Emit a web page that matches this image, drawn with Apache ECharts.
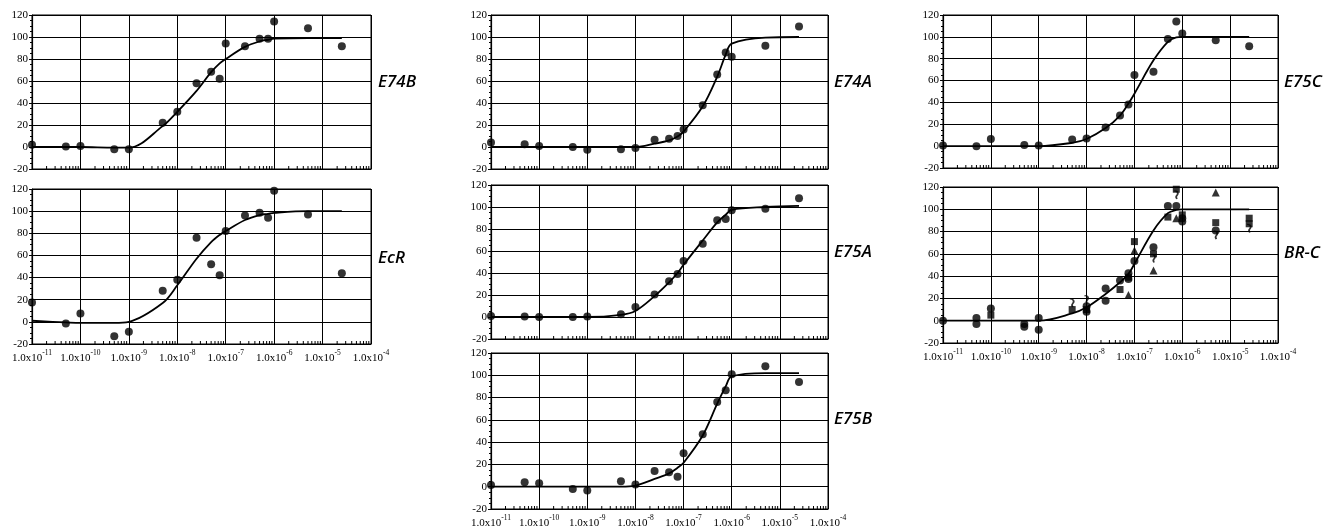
<!DOCTYPE html>
<html>
<head>
<meta charset="utf-8">
<script src="https://cdn.jsdelivr.net/npm/echarts@6/dist/echarts.min.js"></script>
<style>
  html, body { margin: 0; padding: 0; background: #fff; }
  #chart { width: 1327px; height: 530px; }
</style>
</head>
<body>
<div id="chart"></div>
<script>
// Ligand concentrations (M) shared by every panel
const conc = [1e-11, 5e-11, 1e-10, 5e-10, 1e-9, 5e-9, 1e-8, 2.5e-8, 5e-8, 7.5e-8,
              1e-7, 2.5e-7, 5e-7, 7.5e-7, 1e-6, 5e-6, 2.5e-5];

// Measured responses (% of maximum) at each concentration
const e74bData = [2, 0.5, 1, -2, -2, 22, 32, 58, 68.5, 62, 94, 91.5, 98.5, 98.5, 114, 108, 91.5];
const ecrData  = [17.5, -1.5, 7.5, -13, -9, 28, 38, 76, 52, 42, 82, 96, 98.5, 94, 118.5, 97, 44];
const e74aData = [4, 2.5, 1, 0, -2.5, -2, -1, 6.5, 7.5, 10, 16, 38, 66, 86, 82, 92, 109.5];
const e75aData = [1, 0.5, 0, 0, 0.5, 2.5, 9, 20.5, 32.5, 39, 51, 66.5, 88, 89, 97, 98.5, 108];
const e75bData = [1.5, 4, 3, -2, -3.5, 5, 2, 14, 13, 9, 30, 47, 76, 86.5, 101, 108, 94];
const e75cData = [0.5, 0, 6.5, 1, 0.5, 6, 7, 17, 28, 38, 65, 68, 98, 114, 103, 97, 91.5];

// Fitted dose-response curves evaluated at the same concentrations
const e74bFit = [0, 0, 0, -0.5, -0.5, 19, 32, 51, 68, 76, 80, 91, 96, 97.5, 98.5, 99, 99];
const ecrFit  = [1, -0.5, -1, -1, 0, 17, 33, 57, 72, 78.5, 82, 92, 96.5, 97.5, 98.5, 100, 100];
const e74aFit = [0, 0, 0, 0, 0, 0, 0, 3, 6, 9.5, 14, 37, 64, 84, 94, 99.5, 100];
const e75aFit = [0, 0, 0, 0, 0, 2, 5.5, 19, 31.5, 40, 47.5, 69.5, 86, 93, 97.5, 100, 101];
const e75bFit = [0, 0, 0, 0, 0, 0, 1, 7, 12, 17, 21.5, 46, 74.5, 90, 99, 102, 102];
const e75cFit = [0, 0, 0, 0, 0, 3, 6.5, 16.5, 28, 39, 48, 78.5, 95.5, 99.5, 100, 100, 100];
const brcFit  = [0, 0, 0, 0, 0, 6.5, 12, 24, 34.5, 42, 51, 81, 96.5, 99.5, 100, 100, 100];

// BR-C isoforms, plotted with separate markers
const brcCircleX = [1e-11, 5e-11, 5e-11, 1e-10, 5e-10, 5e-10, 1e-9, 1e-9, 1e-8, 1e-8, 2.5e-8, 2.5e-8,
                    5e-8, 7.5e-8, 7.5e-8, 1e-7, 2.5e-7, 5e-7, 7.5e-7, 1e-6, 1e-6, 5e-6];
const brcCircleY = [0, 2.5, -3, 11, -3, -5.5, 2.5, -8, 8, 13, 29, 18,
                    36, 42.5, 37.5, 53.5, 66, 103, 103, 89, 92, 81];
const brcSquareX = [1e-10, 5e-9, 1e-8, 5e-8, 7.5e-8, 1e-7, 2.5e-7, 5e-7, 7.5e-7, 1e-6, 5e-6, 2.5e-5, 2.5e-5];
const brcSquareY = [5, 10, 10, 28, 39, 71, 60, 93, 118, 95, 88, 87, 92];
const brcTriangleX = [7.5e-8, 1e-7, 2.5e-7, 7.5e-7, 5e-6];
const brcTriangleY = [23, 63, 45, 92, 115];
const brcHookX = [5e-9, 1e-8, 2.5e-7, 7.5e-7, 5e-6, 2.5e-5];
const brcHookY = [16, 19, 56, 113, 77, 83];

// Axis labels
const xExponents = ['-11', '-10', '-9', '-8', '-7', '-6', '-5', '-4'];
const minorMultipliers = [2, 3, 4, 5, 6, 7, 8, 9];

const serif = "'Liberation Serif', 'DejaVu Serif', serif";
const labelFont = "'Open Sans', 'Noto Sans', sans-serif";

function pairs(xs, ys) { return xs.map((x, i) => [x, ys[i]]); }

// Minor tick positions (2..9 within each decade) for the log axes
const minorTickValues = [];
for (let e = -11; e < -4; e++) {
  minorMultipliers.forEach(m => minorTickValues.push([m * Math.pow(10, e)]));
}

const panels = [
  { name: 'E74B', grid: { left: 32,  top: 15,  width: 339, height: 154 }, label: [378, 84],  showX: false, data: e74bData, fit: e74bFit },
  { name: 'EcR',  grid: { left: 32,  top: 189, width: 339, height: 155 }, label: [378, 260], showX: true,  data: ecrData,  fit: ecrFit },
  { name: 'E74A', grid: { left: 491, top: 15,  width: 337, height: 154 }, label: [834, 84],  showX: false, data: e74aData, fit: e74aFit },
  { name: 'E75A', grid: { left: 491, top: 185, width: 337, height: 154 }, label: [834, 254], showX: false, data: e75aData, fit: e75aFit },
  { name: 'E75B', grid: { left: 491, top: 353, width: 337, height: 156 }, label: [834, 421], showX: true,  data: e75bData, fit: e75bFit },
  { name: 'E75C', grid: { left: 943, top: 15,  width: 335, height: 153 }, label: [1284, 84], showX: false, data: e75cData, fit: e75cFit },
  { name: 'BR-C', grid: { left: 943, top: 187, width: 335, height: 156 }, label: [1284, 255], showX: true, data: null,     fit: brcFit }
];

const grids = [], xAxes = [], yAxes = [], series = [], titles = [];

panels.forEach((p, i) => {
  grids.push(Object.assign({
    show: true, borderColor: '#000', borderWidth: 1, backgroundColor: 'transparent'
  }, p.grid));

  xAxes.push({
    type: 'log', gridIndex: i, logBase: 10, min: 1e-11, max: 1e-4, splitNumber: 7,
    axisLine: { show: true, onZero: false, lineStyle: { color: '#000', width: 1.2 } },
    axisTick: { show: false },
    splitLine: { show: true, lineStyle: { color: '#000', width: 1 } },
    axisLabel: {
      show: p.showX, margin: 5, color: '#000',
      formatter: v => {
        const idx = Math.round(Math.log10(v)) + 11;
        return '{m|1.0x10}{e|' + xExponents[idx] + '}';
      },
      rich: {
        m: { fontFamily: serif, fontSize: 11, color: '#000', verticalAlign: 'bottom', lineHeight: 15 },
        e: { fontFamily: serif, fontSize: 7.5, color: '#000', verticalAlign: 'top', lineHeight: 15 }
      }
    }
  });

  yAxes.push({
    type: 'value', gridIndex: i, min: -20, max: 120, interval: 20,
    axisLine: { show: true, onZero: false, lineStyle: { color: '#000', width: 1.2 } },
    axisTick: { show: true, length: 3, lineStyle: { color: '#000' } },
    minorTick: { show: true, splitNumber: 4, length: 2, lineStyle: { color: '#000' } },
    splitLine: { show: true, lineStyle: { color: '#000', width: 1 } },
    axisLabel: { margin: 4, color: '#000', fontFamily: serif, fontSize: 11 }
  });

  titles.push({
    text: p.name, left: p.label[0], top: p.label[1] - 10, padding: 0,
    textStyle: { fontFamily: labelFont, fontStyle: 'italic', fontWeight: 600, fontSize: 17, color: '#000' }
  });

  // minor log ticks along the bottom axis
  series.push({
    type: 'custom', xAxisIndex: i, yAxisIndex: i, silent: true, z: 5,
    data: minorTickValues,
    renderItem: (params, api) => {
      const pt = api.coord([api.value(0), -20]);
      return { type: 'line', shape: { x1: pt[0], y1: pt[1], x2: pt[0], y2: pt[1] - 3 },
               style: { stroke: '#000', lineWidth: 1 } };
    }
  });

  // fitted curve
  series.push({
    type: 'line', xAxisIndex: i, yAxisIndex: i, data: pairs(conc, p.fit),
    smooth: 0.35, showSymbol: false, symbol: 'none', silent: true, z: 3,
    lineStyle: { color: '#000', width: 1.8 }
  });

  if (p.data) {
    series.push({
      type: 'scatter', xAxisIndex: i, yAxisIndex: i, data: pairs(conc, p.data),
      symbol: 'circle', symbolSize: 8, itemStyle: { color: '#000' }, z: 4
    });
  }
});

// BR-C markers
const brc = 6;
series.push(
  { type: 'scatter', xAxisIndex: brc, yAxisIndex: brc, data: pairs(brcCircleX, brcCircleY),
    symbol: 'circle', symbolSize: 8, itemStyle: { color: '#000' }, z: 4 },
  { type: 'scatter', xAxisIndex: brc, yAxisIndex: brc, data: pairs(brcSquareX, brcSquareY),
    symbol: 'rect', symbolSize: 7, itemStyle: { color: '#000' }, z: 4 },
  { type: 'scatter', xAxisIndex: brc, yAxisIndex: brc, data: pairs(brcTriangleX, brcTriangleY),
    symbol: 'triangle', symbolSize: 8, itemStyle: { color: '#000' }, z: 4 },
  { type: 'scatter', xAxisIndex: brc, yAxisIndex: brc, data: pairs(brcHookX, brcHookY),
    symbol: 'path://M2,0 C7,0 9,5 6,9 C5,10 5,12 6,14 L4,15 C2,12 3,9 4,8 C6,5 5,2 1,2 Z',
    symbolSize: [5, 9], itemStyle: { color: '#000' }, z: 4 }
);

const chart = echarts.init(document.getElementById('chart'), null, { renderer: 'canvas' });
chart.setOption({
  animation: false,
  backgroundColor: '#fff',
  title: titles,
  grid: grids,
  xAxis: xAxes,
  yAxis: yAxes,
  series: series
});
</script>
</body>
</html>
